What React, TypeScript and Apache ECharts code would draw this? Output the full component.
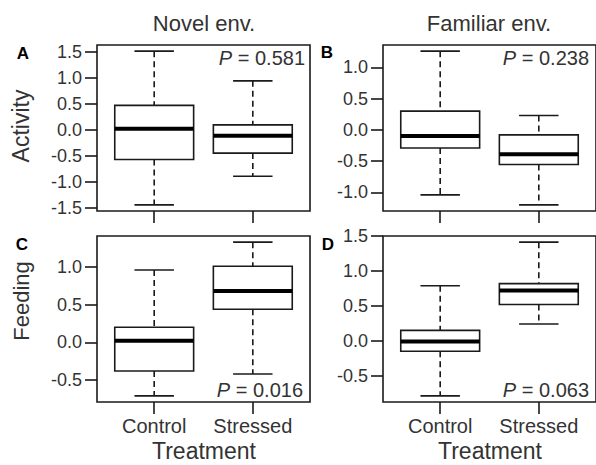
import React, { useEffect, useRef } from "react";
import * as echarts from "echarts";

// Box statistics: [lowerWhisker, Q1, median, Q3, upperWhisker] for Control, Stressed
const categories = ["Control", "Stressed"];
const activityNovel = [
  [-1.44, -0.57, 0.02, 0.47, 1.51],
  [-0.89, -0.447, -0.115, 0.095, 0.94],
];
const activityFamiliar = [
  [-1.04, -0.29, -0.1, 0.3, 1.26],
  [-1.2, -0.555, -0.39, -0.08, 0.23],
];
const feedingNovel = [
  [-0.71, -0.38, 0.02, 0.2, 0.96],
  [-0.42, 0.44, 0.68, 1.01, 1.33],
];
const feedingFamiliar = [
  [-0.79, -0.15, -0.01, 0.15, 0.79],
  [0.24, 0.52, 0.72, 0.82, 1.415],
];
const ticksA = [-1.5, -1.0, -0.5, 0.0, 0.5, 1.0, 1.5];
const ticksB = [-1.0, -0.5, 0.0, 0.5, 1.0];
const ticksC = [-0.5, 0.0, 0.5, 1.0];
const ticksD = [-0.5, 0.0, 0.5, 1.0, 1.5];
const pValues = ["0.581", "0.238", "0.016", "0.063"];
const panelLetters = ["A", "B", "C", "D"];
const columnTitles = ["Novel env.", "Familiar env."];
const rowTitles = ["Activity", "Feeding"];
const xTitle = "Treatment";

const FONT = "'Liberation Sans', Arial, Helvetica, sans-serif";
const TXT = "#333";
const LINE = "#1a1a1a";
const LW = 1.6;

function range(stats: number[][]) {
  let lo = Infinity;
  let hi = -Infinity;
  stats.forEach((s) => {
    lo = Math.min(lo, ...s);
    hi = Math.max(hi, ...s);
  });
  const pad = (hi - lo) * 0.04;
  return [lo - pad, hi + pad];
}

export default function App() {
  const ref = useRef<HTMLDivElement>(null);
  useEffect(() => {
    if (!ref.current) return;
    const chart = echarts.init(ref.current, undefined, { renderer: "svg" });

    const panels = [
      { stats: activityNovel, ticks: ticksA, left: 97, top: 45, p: pValues[0] },
      { stats: activityFamiliar, ticks: ticksB, left: 383, top: 45, p: pValues[1] },
      { stats: feedingNovel, ticks: ticksC, left: 97, top: 236, p: pValues[2] },
      { stats: feedingFamiliar, ticks: ticksD, left: 383, top: 236, p: pValues[3] },
    ];
    const W = 213;
    const H = 166;

    const grid = panels.map((p) => ({
      left: p.left,
      top: p.top,
      width: W,
      height: H,
      show: true,
      borderColor: LINE,
      borderWidth: LW,
      backgroundColor: "transparent",
      containLabel: false,
    }));

    const xAxis = panels.map((p, i) => ({
      type: "value",
      gridIndex: i,
      min: 0.42,
      max: 2.58,
      axisLine: { show: false, onZero: false },
      splitLine: { show: false },
      axisTick: {
        show: true,
        customValues: [1, 2],
        length: 12,
        lineStyle: { color: LINE, width: LW },
      },
      axisLabel: {
        show: i >= 2,
        customValues: [1, 2],
        margin: 14,
        fontSize: 20,
        fontFamily: FONT,
        color: TXT,
        formatter: (v: number) => categories[Math.round(v) - 1] ?? "",
      },
    }));

    const yAxis = panels.map((p, i) => {
      const [mn, mx] = range(p.stats);
      return {
        type: "value",
        gridIndex: i,
        min: mn,
        max: mx,
        axisLine: { show: false, onZero: false },
        splitLine: { show: false },
        axisTick: {
          show: true,
          customValues: p.ticks,
          length: 12,
          lineStyle: { color: LINE, width: LW },
        },
        axisLabel: {
          customValues: p.ticks,
          margin: 15,
          fontSize: 18,
          fontFamily: FONT,
          color: TXT,
          formatter: (v: number) => v.toFixed(1),
        },
      };
    });

    const series = panels.map((p, i) => ({
      type: "custom",
      xAxisIndex: i,
      yAxisIndex: i,
      clip: false,
      data: p.stats.map((s, k) => [k + 1, ...s]),
      renderItem: (_params: any, api: any) => {
        const x = api.value(0);
        const lo = api.value(1);
        const q1 = api.value(2);
        const med = api.value(3);
        const q3 = api.value(4);
        const hi = api.value(5);
        const c = (xx: number, yy: number) => api.coord([xx, yy]);
        const half = 0.4;
        const cap = 0.2;
        const seg = (a: number[], b: number[], style: any) => ({
          type: "line",
          shape: { x1: a[0], y1: a[1], x2: b[0], y2: b[1] },
          style,
        });
        const dashed = { stroke: LINE, lineWidth: LW, lineDash: [6, 4], fill: null };
        const solid = { stroke: LINE, lineWidth: LW, fill: null };
        const tl = c(x - half, q3);
        const br = c(x + half, q1);
        return {
          type: "group",
          children: [
            seg(c(x, hi), c(x, q3), dashed),
            seg(c(x, q1), c(x, lo), dashed),
            seg(c(x - cap, hi), c(x + cap, hi), solid),
            seg(c(x - cap, lo), c(x + cap, lo), solid),
            {
              type: "rect",
              shape: { x: tl[0], y: tl[1], width: br[0] - tl[0], height: br[1] - tl[1] },
              style: { fill: "#fff", stroke: LINE, lineWidth: LW },
            },
            seg(c(x - half, med), c(x + half, med), { stroke: "#000", lineWidth: 4, fill: null }),
          ],
        };
      },
    }));

    const txt = (text: string, x: number, y: number, size: number, extra: any = {}) => ({
      type: "text",
      x,
      y,
      rotation: extra.rotation || 0,
      style: {
        text,
        fontSize: size,
        fontFamily: FONT,
        fontWeight: extra.bold ? "bold" : "normal",
        fill: extra.color || TXT,
        align: extra.align || "center",
        verticalAlign: "middle",
        textAlign: extra.align || "center",
        textVerticalAlign: "middle",
      },
    });

    const graphics: any[] = [];
    graphics.push(txt(columnTitles[0], 204, 23, 22));
    graphics.push(txt(columnTitles[1], 489, 23, 22));
    graphics.push(txt(rowTitles[0], 21, 126, 23, { rotation: Math.PI / 2 }));
    graphics.push(txt(rowTitles[1], 21, 301, 22, { rotation: Math.PI / 2 }));
    graphics.push(txt(xTitle, 204, 451, 23));
    graphics.push(txt(xTitle, 490, 451, 23));
    const letterPos = [
      [23, 53],
      [327, 52],
      [22, 244],
      [328, 244],
    ];
    panelLetters.forEach((l, i) =>
      graphics.push(txt(l, letterPos[i][0], letterPos[i][1], 17, { bold: true, color: "#000" }))
    );
    const pPos = [
      [305, 58],
      [589, 58],
      [303, 390],
      [589, 390],
    ];
    panels.forEach((p, i) => {
      graphics.push({
        type: "text",
        x: pPos[i][0],
        y: pPos[i][1],
        style: {
          text: `{i|P}{n| = ${p.p}}`,
          align: "right",
          verticalAlign: "middle",
          textAlign: "right",
          textVerticalAlign: "middle",
          fontSize: 20,
          fontFamily: FONT,
          fill: TXT,
          rich: {
            i: { fontStyle: "italic", fontSize: 20, fontFamily: FONT, fill: TXT },
            n: { fontSize: 20, fontFamily: FONT, fill: TXT },
          },
        },
      });
    });

    chart.setOption({
      animation: false,
      backgroundColor: "#fff",
      grid,
      xAxis,
      yAxis,
      series,
      graphic: { elements: graphics },
    } as any);

    return () => chart.dispose();
  }, []);

  return (
    <div
      ref={ref}
      style={{ position: "fixed", left: 0, top: 0, width: 596, height: 465 }}
    />
  );
}
